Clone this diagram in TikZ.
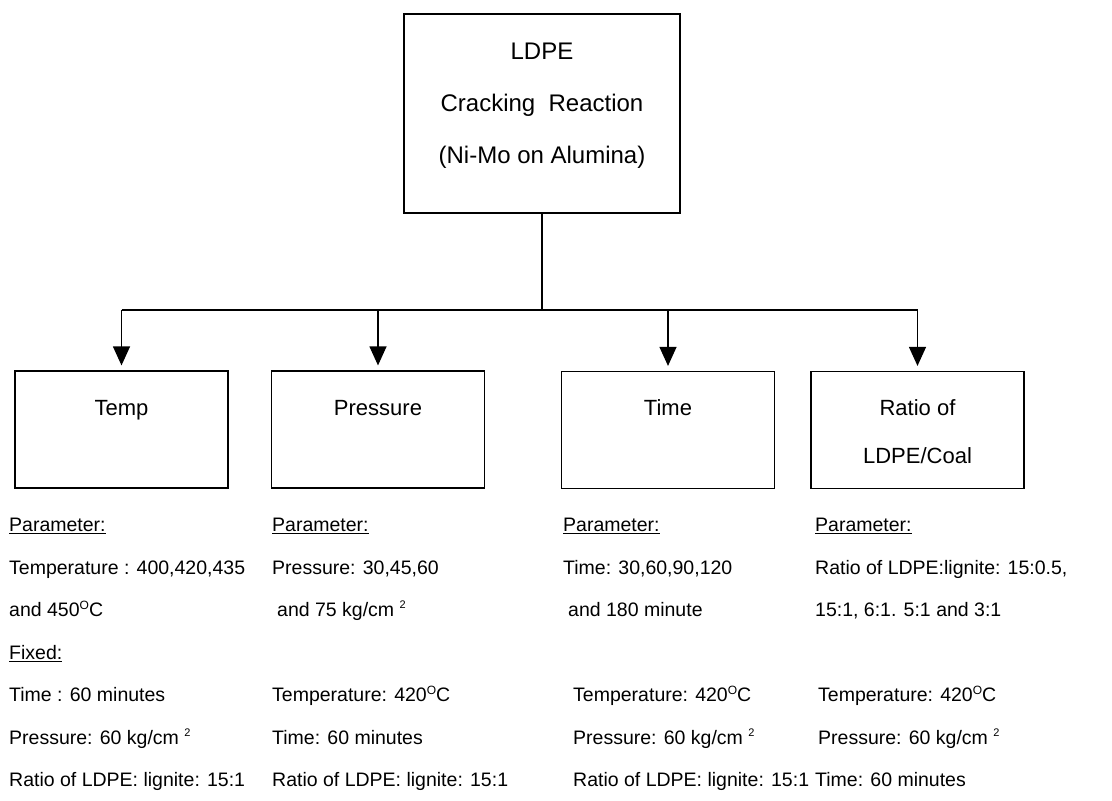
\documentclass[tikz,border=0pt]{standalone}
\usepackage{fontspec}
\setmainfont{Liberation Sans}
\usetikzlibrary{arrows.meta,positioning}

\newcommand{\degO}{\raisebox{7pt}{\fontsize{12}{12}\selectfont O}}
\newcommand{\sqtwo}{\raisebox{8pt}{\fontsize{11}{11}\selectfont 2}}

\begin{document}
\begin{tikzpicture}[x=1pt,y=-1pt,
		mainbox/.style={draw, line width=1.2pt, minimum width=276pt, inner xsep=0pt, inner ysep=0pt,
			align=center, font=\fontsize{24}{52}\selectfont, text height=149pt, text depth=50pt},
		factorbox/.style={draw, line width=1.2pt, minimum width=213pt, inner xsep=0pt, inner ysep=0pt,
			align=center, font=\fontsize{22}{48}\selectfont, text height=44pt, text depth=73pt},
		info/.style={anchor=north west, align=left, inner sep=0pt, font=\fontsize{19.5}{42.5}\selectfont},
		link/.style={line width=1.2pt},
		feed/.style={link, -{Triangle[length=19pt,width=17pt]}, shorten >=5pt}]
		\useasboundingbox (0,0) rectangle (1112,801);
		
		% the reaction and the four factors
		\node[mainbox] (top) at (542,113.5) {LDPE\\Cracking\ \ Reaction\\(Ni-Mo on Alumina)};
		\node[factorbox] (temp) at (121.5,429.5) {Temp};
		\node[factorbox] (pres) at (378,429.5) {Pressure};
		\node[factorbox] (time) at (668,430) {Time};
		\node[factorbox, text height=92pt, text depth=25pt] (ratio) at (917.5,430) {Ratio of\\LDPE/Coal};
		
		% the tree
		\coordinate (split) at (top.south |- 0,310);
		\draw [link] (top) -- (split);
		\draw [link] (temp.north |- split) -- (ratio.north |- split);
		\foreach \f in {temp,pres,time,ratio}
			\draw [feed] (\f.north |- split) -- (\f.north);
		
		% conditions under each box
		\node[info] (tempinfo) at (9,518) {\underline{Parameter:}\\
			Temperature : 400,420,435\\
			and 450\degO C\\
			\underline{Fixed:}\\
			Time : 60 minutes\\
			Pressure: 60 kg/cm \sqtwo\\
			Ratio of LDPE: lignite: 15:1};
		\node[info] (presinfo) at (272,518) {\underline{Parameter:}\\
			Pressure: 30,45,60\\
			\hspace*{5pt}and 75 kg/cm \sqtwo\\[42.5pt]
			Temperature: 420\degO C\\
			Time: 60 minutes\\
			Ratio of LDPE: lignite: 15:1};
		\node[info] (timeinfo) at (563,518) {\underline{Parameter:}\\
			Time: 30,60,90,120\\
			\hspace*{5pt}and 180 minute\\[42.5pt]
			\hspace*{10pt}Temperature: 420\degO C\\
			\hspace*{10pt}Pressure: 60 kg/cm \sqtwo\\
			\hspace*{10pt}Ratio of LDPE: lignite: 15:1};
		\node[info] (ratioinfo) at (815,518) {\underline{Parameter:}\\
			Ratio of LDPE:lignite: 15:0.5,\\
			15:1, 6:1. 5:1 and 3:1\\[42.5pt]
			\hspace*{3pt}Temperature: 420\degO C\\
			\hspace*{3pt}Pressure: 60 kg/cm \sqtwo\\
			Time: 60 minutes};
	\end{tikzpicture}
\end{document}
